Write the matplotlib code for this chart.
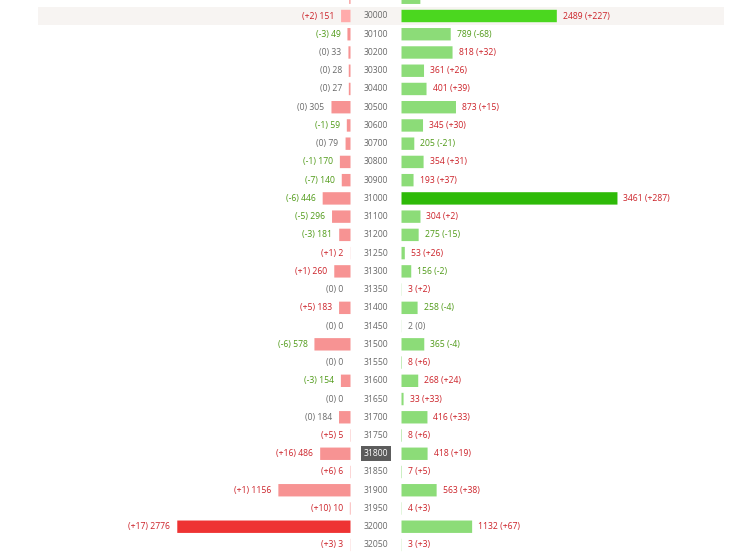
import matplotlib
matplotlib.use('Agg')
import matplotlib.pyplot as plt

# strike rows, top row is cut off by the picture edge
strikes = [29900, 30000, 30100, 30200, 30300, 30400, 30500, 30600, 30700, 30800, 30900,
           31000, 31100, 31200, 31250, 31300, 31350, 31400, 31450, 31500, 31550,
           31600, 31650, 31700, 31750, 31800, 31850, 31900, 31950, 32000, 32050]
puts = [20, 151, 49, 33, 28, 27, 305, 59, 79, 170, 140,
        446, 296, 181, 2, 260, 0, 183, 0, 578, 0,
        154, 0, 184, 5, 486, 6, 1156, 10, 2776, 3]
puts_chg = [0, 2, -3, 0, 0, 0, 0, -1, 0, -1, -7,
            -6, -5, -3, 1, 1, 0, 5, 0, -6, 0,
            -3, 0, 0, 5, 16, 6, 1, 10, 17, 3]
calls = [302, 2489, 789, 818, 361, 401, 873, 345, 205, 354, 193,
         3461, 304, 275, 53, 156, 3, 258, 2, 365, 8,
         268, 33, 416, 8, 418, 7, 563, 4, 1132, 3]
calls_chg = [33, 227, -68, 32, 26, 39, 15, 30, -21, 31, 37,
             287, 2, -15, 26, -2, 2, -4, 0, -4, 6,
             24, 33, 33, 6, 19, 5, 38, 3, 67, 3]

W, H = 740, 556
PX_PER_UNIT = 0.0624  # bar length in px per contract
ROW = 18.24
Y0 = 16 - ROW         # centre of the first (cut) row in px
LEFT_EDGE = 350.5
RIGHT_EDGE = 401.5

plt.rcParams['font.family'] = ['Open Sans', 'DejaVu Sans']
FS = 6.2


def chg_color(c):
    if c > 0:
        return '#cc2229'
    if c < 0:
        return '#4f9a17'
    return '#6a6a6a'


def chg_str(c):
    return '(+%d)' % c if c > 0 else '(%d)' % c


def put_color(s, v):
    if v == max(puts):
        return '#ee3333'
    if s == 30000:
        return '#ffabab'
    return '#f79393'


def call_color(s, v):
    if v == max(calls):
        return '#2eba08'
    if s == 30000:
        return '#4bd71f'
    return '#8cdc78'


fig = plt.figure(figsize=(W / 100, H / 100), dpi=100, facecolor='white')

ylim = ((H - Y0) / ROW, -Y0 / ROW)  # row index, top to bottom

# background layer in px
bg = fig.add_axes([0, 0, 1, 1])
bg.set_xlim(0, W)
bg.set_ylim(H, 0)
bg.axis('off')
row_30000 = strikes.index(30000)
bg.barh(Y0 + row_30000 * ROW, 686, height=18, left=38, color='#f7f4f2', linewidth=0)

# puts go to the left from the common edge
ax_p = fig.add_axes([0, 0, LEFT_EDGE / W, 1])
ax_p.set_xlim(LEFT_EDGE / PX_PER_UNIT, 0)
ax_p.set_ylim(*ylim)
ax_p.axis('off')

# calls go to the right
ax_c = fig.add_axes([RIGHT_EDGE / W, 0, 1 - RIGHT_EDGE / W, 1])
ax_c.set_xlim(0, (W - RIGHT_EDGE) / PX_PER_UNIT)
ax_c.set_ylim(*ylim)
ax_c.axis('off')

rows = range(len(strikes))
# snap off, otherwise the tiny values get a full 1 px line
ax_p.barh(rows, puts, height=0.68, color=[put_color(s, v) for s, v in zip(strikes, puts)],
          linewidth=0, snap=False)
ax_c.barh(rows, calls, height=0.68, color=[call_color(s, v) for s, v in zip(strikes, calls)],
          linewidth=0, snap=False)

for i, s in enumerate(strikes):
    ax_p.annotate('%s %d' % (chg_str(puts_chg[i]), puts[i]), (puts[i], i), xytext=(-7, 0),
                  textcoords='offset pixels', ha='right', va='center',
                  fontsize=FS, color=chg_color(puts_chg[i]), clip_on=True)
    ax_c.annotate('%d %s' % (calls[i], chg_str(calls_chg[i])), (calls[i], i), xytext=(6, 0),
                  textcoords='offset pixels', ha='left', va='center',
                  fontsize=FS, color=chg_color(calls_chg[i]), clip_on=True)
    y = Y0 + i * ROW
    if s == 31800:
        # at the money strike
        bg.text(376, y, str(s), ha='center', va='center', fontsize=FS, color='white',
                bbox=dict(boxstyle='square,pad=0.35', facecolor='#5c5c5c', edgecolor='none'))
    else:
        bg.text(376, y, str(s), ha='center', va='center', fontsize=FS, color='#6a6a6a')

fig.savefig('out.png', dpi=100)
